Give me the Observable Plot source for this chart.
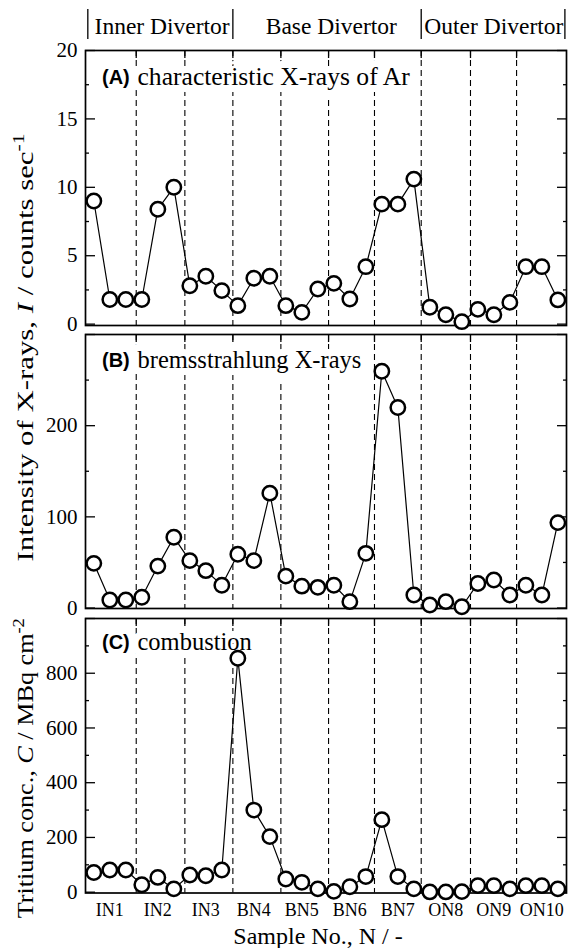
<!DOCTYPE html>
<html>
<head>
<meta charset="utf-8">
<script src="https://cdn.jsdelivr.net/npm/d3@7"></script>
<script src="https://cdn.jsdelivr.net/npm/@observablehq/plot@0.6"></script>
<style>
  html, body { margin: 0; padding: 0; background: white; }
  #chart { position: relative; width: 574px; height: 948px; overflow: hidden; }
  #chart svg { position: absolute; left: 0; }
</style>
</head>
<body>
<div id="chart"></div>
<script>
// ---------- data ----------
const samples = ["IN1", "IN2", "IN3", "BN4", "BN5", "BN6", "BN7", "ON8", "ON9", "ON10"];
const pointsPerSample = 3;
const regionNames = ["Inner Divertor", "Base Divertor", "Outer Divertor"];
const regionBounds = [-0.375, 8.69, 20.46, 29.44];
const regionLabelX = [4.27, 14.84, 25.0];
const sampleDividers = [2.65, 5.69, 8.69, 11.69, 14.67, 17.54, 20.46, 23.54, 26.42];

// (A) characteristic X-rays of Ar, counts/sec
const xrayAr = [9.0, 1.8, 1.8, 1.8, 8.4, 10.0, 2.8, 3.5, 2.45, 1.35, 3.35, 3.5, 1.35, 0.86, 2.57,
                2.98, 1.84, 4.2, 8.77, 8.77, 10.6, 1.23, 0.69, 0.18, 1.08, 0.69, 1.59, 4.2, 4.2, 1.77];
// (B) bremsstrahlung X-rays, counts/sec
const brems = [49, 8.8, 8.8, 11.8, 46, 77.7, 52, 41, 25, 59, 52, 126, 35, 24, 22.7,
               25, 7, 60, 259.7, 220, 14.3, 3.3, 7, 1.4, 27, 30.8, 14.3, 25, 14.3, 93.7];
// (C) combustion, tritium conc. MBq/cm2
const tritium = [72, 81, 81, 27, 54, 12, 63, 60, 81, 855, 300, 203, 48, 36, 12,
                 3, 20, 57, 265, 57, 12, 1, 1, 2, 24, 24, 12, 24, 24, 12];

const ticksA = {major: [0, 5, 10, 15, 20], minor: [2.5, 7.5, 12.5, 17.5], labels: [0, 5, 10, 15, 20]};
const ticksB = {major: [0, 100, 200, 300], minor: [50, 150, 250], labels: [0, 100, 200]};
const ticksC = {major: [0, 200, 400, 600, 800, 1000], minor: [100, 300, 500, 700, 900], labels: [0, 200, 400, 600, 800]};

const yTitle1 = "Intensity of X-rays, I / counts sec-1";
const yTitle2 = "Tritium conc., C / MBq cm-2";
const xTitle = "Sample No., N / -";

// ---------- table ----------
const rows = xrayAr.map((v, i) => ({
  i, sample: samples[Math.floor(i / pointsPerSample)], a: v, b: brems[i], c: tritium[i]
}));
const sampleCenters = samples.map((s, k) => k * pointsPerSample + 1);

// ---------- layout ----------
const W = 574;
const serif = "'Liberation Serif', 'Times New Roman', Times, serif";
const sans = "'Liberation Sans', Arial, Helvetica, sans-serif";
const xDomain = [-0.52, 29.54];
const common = {
  width: W, marginLeft: 85, marginRight: 8,
  style: {background: "transparent", overflow: "visible", fontFamily: serif, fontSize: "21px", color: "black"}
};
const root = document.getElementById("chart");

function axesFor(t) {
  return [
    Plot.axisY({ticks: t.major, anchor: "left", tickSize: 10, dx: 10, tickFormat: () => "", label: null, strokeWidth: 1.3}),
    Plot.axisY({ticks: t.minor, anchor: "left", tickSize: 4, dx: 4, tickFormat: () => "", label: null, strokeWidth: 1.3}),
    Plot.axisY({ticks: t.major, anchor: "right", tickSize: 10, dx: -10, tickFormat: () => "", label: null, strokeWidth: 1.3}),
    Plot.axisY({ticks: t.minor, anchor: "right", tickSize: 4, dx: -4, tickFormat: () => "", label: null, strokeWidth: 1.3}),
    Plot.axisY({ticks: t.labels, anchor: "left", tickSize: 0, tickPadding: 8, label: null, fontSize: 21}),
    Plot.axisX({ticks: sampleDividers, anchor: "top", tickSize: 7, dy: 7, tickFormat: () => "", label: null, strokeWidth: 1.3})
  ];
}

function panelLabel(tag, text, dy, size) {
  return [
    Plot.text([text], {text: d => d, frameAnchor: "top-left", dx: 52, dy, lineAnchor: "bottom", textAnchor: "start",
      fontFamily: serif, fontSize: size, fill: "black", stroke: "white", strokeWidth: 14}),
    Plot.text([tag], {text: d => d, frameAnchor: "top-left", dx: 16.5, dy: dy - 1, lineAnchor: "bottom", textAnchor: "start",
      fontFamily: sans, fontWeight: "bold", fontSize: 20, fill: "black", stroke: "white", strokeWidth: 14})
  ];
}

function dataMarks(key) {
  return [
    Plot.line(rows, {x: "i", y: key, stroke: "black", strokeWidth: 1.2}),
    Plot.dot(rows, {x: "i", y: key, r: 7.2, fill: "white", stroke: "black", strokeWidth: 2.5})
  ];
}

function place(el, top) {
  el.style.top = top + "px";
  root.appendChild(el);
  return el;
}

// header
place(Plot.plot({
  ...common, height: 50, marginTop: 9, marginBottom: 11,
  x: {domain: xDomain, axis: null, label: null},
  marks: [
    Plot.ruleX(regionBounds, {x: d => d, stroke: "black", strokeWidth: 1.3}),
    Plot.text(regionNames, {x: (d, i) => regionLabelX[i], text: d => d, frameAnchor: "bottom", dy: -6,
      lineAnchor: "bottom", fontSize: 23.5, fontFamily: serif, fill: "black"})
  ]
}), 0);

// panel A
const svgA = place(Plot.plot({
  ...common, height: 330, marginTop: 50, marginBottom: 5,
  x: {domain: xDomain, label: null},
  y: {domain: [-0.1, 20], label: null},
  marks: [
    Plot.ruleX(sampleDividers, {x: d => d, stroke: "black", strokeWidth: 1.1, strokeDasharray: "6,4"}),
    ...panelLabel("(A)", "characteristic X-rays of Ar", 34, 25.6),
    ...axesFor(ticksA),
    Plot.frame({stroke: "black", strokeWidth: 1.7}),
    ...dataMarks("a"),
    Plot.text([yTitle1], {text: d => d, frameAnchor: "bottom-left", dx: -60, dy: 22, rotate: -90,
      textAnchor: "middle", lineAnchor: "middle", fontSize: 24, fontFamily: serif, fill: "black"})
  ]
}), 0);

// panel B
place(Plot.plot({
  ...common, height: 284, marginTop: 5, marginBottom: 5,
  x: {domain: xDomain, label: null},
  y: {domain: [-0.5, 300], label: null},
  marks: [
    Plot.ruleX(sampleDividers, {x: d => d, stroke: "black", strokeWidth: 1.1, strokeDasharray: "6,4"}),
    ...panelLabel("(B)", "bremsstrahlung X-rays", 33.5, 24.5),
    ...axesFor(ticksB),
    Plot.frame({stroke: "black", strokeWidth: 1.7}),
    ...dataMarks("b")
  ]
}), 329);

// panel C
const svgC = place(Plot.plot({
  ...common, height: 335, marginTop: 5, marginBottom: 55.5,
  x: {domain: xDomain, label: null},
  y: {domain: [-3, 1000], label: null},
  marks: [
    Plot.ruleX(sampleDividers, {x: d => d, stroke: "black", strokeWidth: 1.1, strokeDasharray: "6,4"}),
    ...panelLabel("(C)", "combustion", 31, 24.5),
    ...axesFor(ticksC),
    Plot.axisX({ticks: sampleCenters, anchor: "bottom", tickSize: 0, tickPadding: 10, label: null,
      tickFormat: d => samples[(d - 1) / pointsPerSample], fontSize: 18}),
    Plot.frame({stroke: "black", strokeWidth: 1.7}),
    ...dataMarks("c"),
    Plot.text([xTitle], {text: d => d, frameAnchor: "bottom", dx: -8, dy: 50.5, lineAnchor: "bottom",
      fontSize: 24, fontFamily: serif, fill: "black"}),
    Plot.text([yTitle2], {text: d => d, frameAnchor: "left", dx: -60, dy: 12.5, rotate: -90,
      textAnchor: "middle", lineAnchor: "middle", fontSize: 24, fontFamily: serif, fill: "black"})
  ]
}), 613);

// rich text: italics and superscripts in the axis titles, and their drawn length
function enrich(svg, plain, html, length) {
  d3.select(svg).selectAll("text").filter(function () { return this.textContent === plain; })
    .html(html)
    .attr("textLength", length)
    .attr("lengthAdjust", "spacingAndGlyphs");
}
enrich(svgA, yTitle1, 'Intensity of X-rays, <tspan font-style="italic">I</tspan> / counts sec<tspan dy="-0.55em" font-size="0.7em">-1</tspan>', 428);
enrich(svgC, yTitle2, 'Tritium conc., <tspan font-style="italic">C</tspan> / MBq cm<tspan dy="-0.55em" font-size="0.7em">-2</tspan>', 300);
</script>
</body>
</html>
